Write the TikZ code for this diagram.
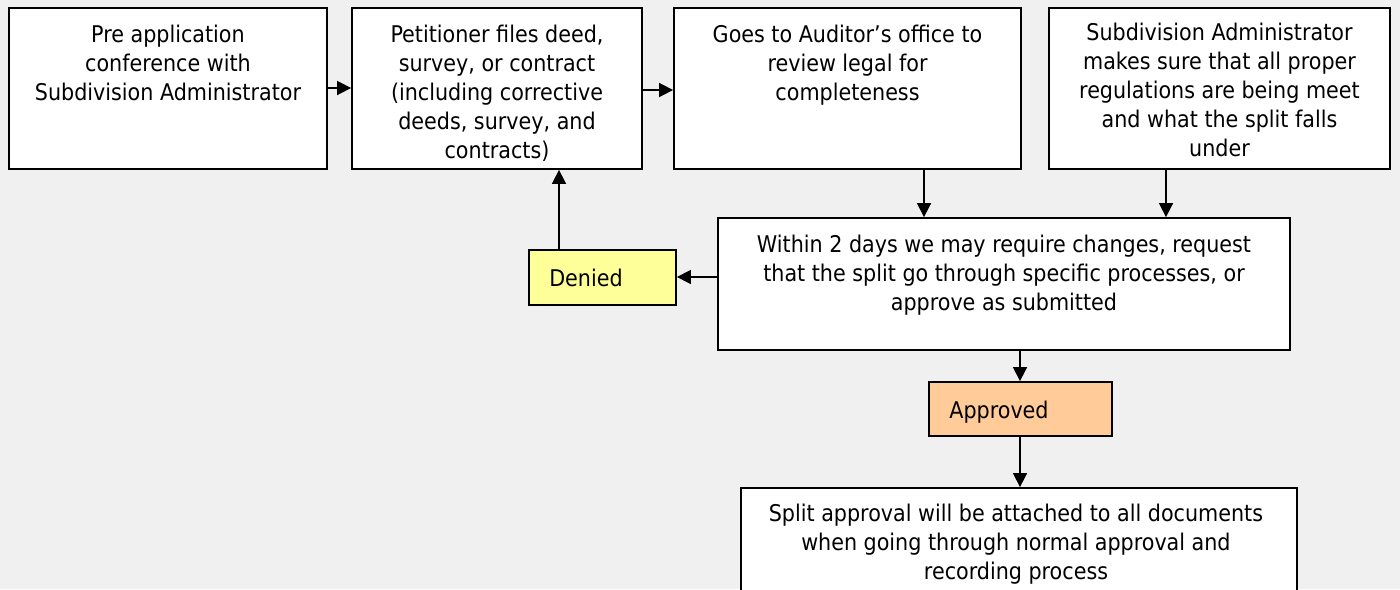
\documentclass[tikz,border=0pt]{standalone}
\usepackage{fontspec}
\setmainfont{DejaVu Sans Condensed}
\usetikzlibrary{arrows.meta,calc}
\definecolor{bg}{HTML}{F0F0F0}
\definecolor{deniedfill}{HTML}{FFFF99}
\definecolor{approvedfill}{HTML}{FFCC99}
\begin{document}
\begin{tikzpicture}[x=1pt,y=-1pt,
  box/.style={draw=black, line width=1.8pt, fill=white, inner sep=0pt},
  txt/.style={align=center, inner sep=0pt, anchor=north, font=\fontsize{23}{29}\selectfont},
  conn/.style={line width=1.6pt, -{Triangle[length=14pt,width=14pt]}}
]
\fill[bg] (0,0) rectangle (1400,589);
\useasboundingbox (0,0) rectangle (1400,589);
% boxes
\node[box, minimum width=318pt, minimum height=161pt] (b1) at (168,88.5) {};
\node[box, minimum width=290pt, minimum height=161pt] (b2) at (497,88.5) {};
\node[box, minimum width=347pt, minimum height=161pt] (b3) at (847.5,88.5) {};
\node[box, minimum width=341pt, minimum height=161pt] (b4) at (1219.5,88.5) {};
\node[box, minimum width=572pt, minimum height=132pt] (b5) at (1004,284) {};
\node[box, fill=deniedfill, minimum width=147pt, minimum height=55pt] (den) at (602.5,277.5) {};
\node[box, fill=approvedfill, minimum width=183pt, minimum height=54pt] (app) at (1020.5,409) {};
\node[box, minimum width=556pt, minimum height=140pt] (b6) at (1019,558) {};
% texts
\node[txt] (t1) at (168,25) {Pre application\\conference with\\Subdivision Administrator};
\node[txt] (t2) at (497,25) {Petitioner files deed,\\survey, or contract\\(including corrective\\deeds, survey, and\\contracts)};
\node[txt] (t3) at (847.5,25) {Goes to Auditor’s office to\\review legal for\\completeness};
\node[txt] (t4) at (1219.5,23) {Subdivision Administrator\\makes sure that all proper\\regulations are being meet\\and what the split falls\\under};
\node[txt] (t5) at (1004,235) {Within 2 days we may require changes, request\\that the split go through specific processes, or\\approve as submitted};
\node[txt] (t6) at (1016,504) {Split approval will be attached to all documents\\when going through normal approval and\\recording process};
\node[txt, anchor=base] (td) at (586,286) {Denied};
\node[txt, anchor=base] (ta) at (999,418) {Approved};
% connectors
\draw[conn] (b1.east |- 0,88) -- (b2.west |- 0,88);
\draw[conn] (b2.east |- 0,90) -- (b3.west |- 0,90);
\draw[conn] (b3.south -| 924,0) -- (b5.north -| 924,0);
\draw[conn] (b4.south -| 1166,0) -- (b5.north -| 1166,0);
\draw[conn] (b5.west |- 0,277) -- (den.east |- 0,277);
\draw[conn] (den.north -| 559,0) -- (b2.south -| 559,0);
\draw[conn] (b5.south -| 1020,0) -- (app.north -| 1020,0);
\draw[conn] (app.south -| 1020,0) -- (b6.north -| 1020,0);
\end{tikzpicture}
\end{document}
